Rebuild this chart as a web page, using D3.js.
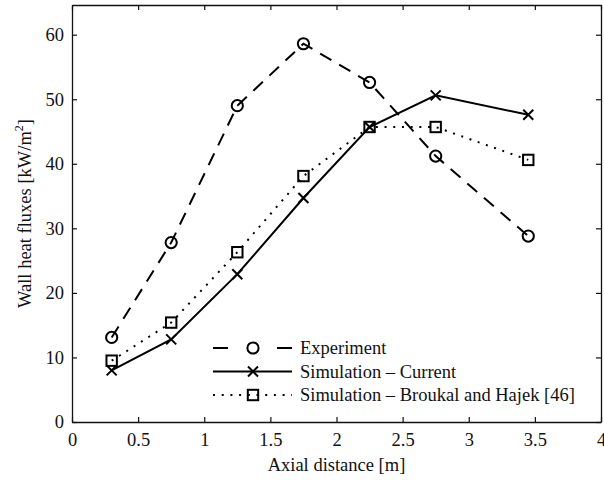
<!DOCTYPE html>
<html>
<head>
<meta charset="utf-8">
<script src="https://cdn.jsdelivr.net/npm/d3@7"></script>
<style>
  html, body { margin: 0; padding: 0; background: #fff; }
  svg { display: block; }
  svg text { font-family: "Liberation Serif", "DejaVu Serif", serif; }
</style>
</head>
<body>
<svg id="chart" width="604" height="481"></svg>
<script>
// Axial positions of the measurement stations [m]
const axialDistance = [0.3, 0.75, 1.25, 1.75, 2.25, 2.75, 3.45];

// Wall heat fluxes [kW/m^2]
const experiment = [13.1, 27.8, 49.0, 58.6, 52.6, 41.2, 28.8];
const simCurrent = [8.0, 12.8, 22.9, 34.7, 45.7, 50.6, 47.6];
const simBroukal = [9.5, 15.4, 26.3, 38.1, 45.7, 45.7, 40.6];

const seriesNames = ["Experiment", "Simulation \u2013 Current", "Simulation \u2013 Broukal and Hajek [46]"];

const xTicks = [0, 0.5, 1, 1.5, 2, 2.5, 3, 3.5, 4];
const yTicks = [0, 10, 20, 30, 40, 50, 60];
const xDomain = [0, 4];
const yDomain = [0, 64.6];

const FONT = "Liberation Serif, DejaVu Serif, serif";
const FS = 18.5;
const INK = "#111";

const svg = d3.select("#chart");
const plotLeft = 72, plotRight = 601, plotTop = 5, plotBottom = 422;

const x = d3.scaleLinear().domain(xDomain).range([plotLeft, plotRight]);
const y = d3.scaleLinear().domain(yDomain).range([plotBottom, plotTop]);

const series = [
  { name: seriesNames[0], values: experiment, dash: "13,9", marker: "circle" },
  { name: seriesNames[1], values: simCurrent, dash: null, marker: "cross" },
  { name: seriesNames[2], values: simBroukal, dash: "2,6.7", marker: "square" }
];

// Axes box with inward ticks on all four sides
const tickLen = 5;

const bottomAxis = d3.axisBottom(x).tickValues(xTicks).tickSizeInner(-tickLen).tickSizeOuter(0).tickPadding(11).tickFormat(d3.format("~g"));
const topAxis = d3.axisTop(x).tickValues(xTicks).tickSizeInner(-tickLen).tickSizeOuter(0).tickFormat("");
const leftAxis = d3.axisLeft(y).tickValues(yTicks).tickSizeInner(-tickLen).tickSizeOuter(0).tickPadding(8).tickFormat(d3.format("~g"));
const rightAxis = d3.axisRight(y).tickValues(yTicks).tickSizeInner(-tickLen).tickSizeOuter(0).tickFormat("");

function styleAxis(g) {
  g.attr("font-family", FONT).attr("font-size", FS);
  g.select(".domain").attr("stroke", INK).attr("stroke-width", 1.3);
  g.selectAll(".tick line").attr("stroke", INK).attr("stroke-width", 1.2);
  g.selectAll(".tick text").attr("fill", INK).attr("font-size", FS).attr("font-family", FONT);
}

svg.append("g").attr("transform", `translate(0,${plotBottom})`).call(bottomAxis).call(styleAxis);
svg.append("g").attr("transform", `translate(0,${plotTop})`).call(topAxis).call(styleAxis);
svg.append("g").attr("transform", `translate(${plotLeft},0)`).call(leftAxis).call(styleAxis);
svg.append("g").attr("transform", `translate(${plotRight},0)`).call(rightAxis).call(styleAxis);

// Axis titles
svg.append("text")
  .attr("x", (plotLeft + plotRight) / 2).attr("y", 471)
  .attr("text-anchor", "middle").attr("font-size", FS).attr("font-family", FONT).attr("fill", INK)
  .text("Axial distance [m]");

const yTitle = svg.append("text")
  .attr("transform", `translate(31,${(plotTop + plotBottom) / 2}) rotate(-90)`)
  .attr("text-anchor", "middle").attr("font-size", FS).attr("font-family", FONT).attr("fill", INK);
yTitle.append("tspan").text("Wall heat fluxes [kW/m");
yTitle.append("tspan").attr("font-size", 12).attr("dy", -8).text("2");
yTitle.append("tspan").attr("dy", 8).text("]");

// Marker drawing
function drawMarker(g, kind, cx, cy) {
  if (kind === "circle") {
    g.append("circle").attr("cx", cx).attr("cy", cy).attr("r", 5.6)
      .attr("fill", "none").attr("stroke", "#000").attr("stroke-width", 2);
  } else if (kind === "square") {
    g.append("rect").attr("x", cx - 5.2).attr("y", cy - 5.2).attr("width", 10.4).attr("height", 10.4)
      .attr("fill", "none").attr("stroke", "#000").attr("stroke-width", 2);
  } else {
    const s = 5;
    g.append("path").attr("d", `M${cx - s},${cy - s}L${cx + s},${cy + s}M${cx - s},${cy + s}L${cx + s},${cy - s}`)
      .attr("fill", "none").attr("stroke", "#000").attr("stroke-width", 2);
  }
}

const line = d3.line().x((d, i) => x(axialDistance[i])).y(d => y(d));
const plotG = svg.append("g");

series.forEach(s => {
  plotG.append("path")
    .datum(s.values)
    .attr("d", line)
    .attr("fill", "none")
    .attr("stroke", "#000")
    .attr("stroke-width", 2)
    .attr("stroke-dasharray", s.dash);
  s.values.forEach((v, i) => drawMarker(plotG, s.marker, x(axialDistance[i]), y(v)));
});

// Legend (no frame)
const legendG = svg.append("g");
const legX0 = 213, legX1 = 292, legMid = 253, legText = 300;
const legY = [348, 371.5, 395];
const legendDash = ["15,49,15", null, "2,6.7"];
series.forEach((s, i) => {
  legendG.append("line")
    .attr("x1", legX0).attr("x2", legX1).attr("y1", legY[i]).attr("y2", legY[i])
    .attr("stroke", "#000").attr("stroke-width", 2)
    .attr("stroke-dasharray", legendDash[i]);
  drawMarker(legendG, s.marker, legMid, legY[i]);
  legendG.append("text")
    .attr("x", legText).attr("y", legY[i] + 6)
    .attr("font-size", FS).attr("font-family", FONT).attr("fill", INK)
    .text(s.name);
});
</script>
</body>
</html>
